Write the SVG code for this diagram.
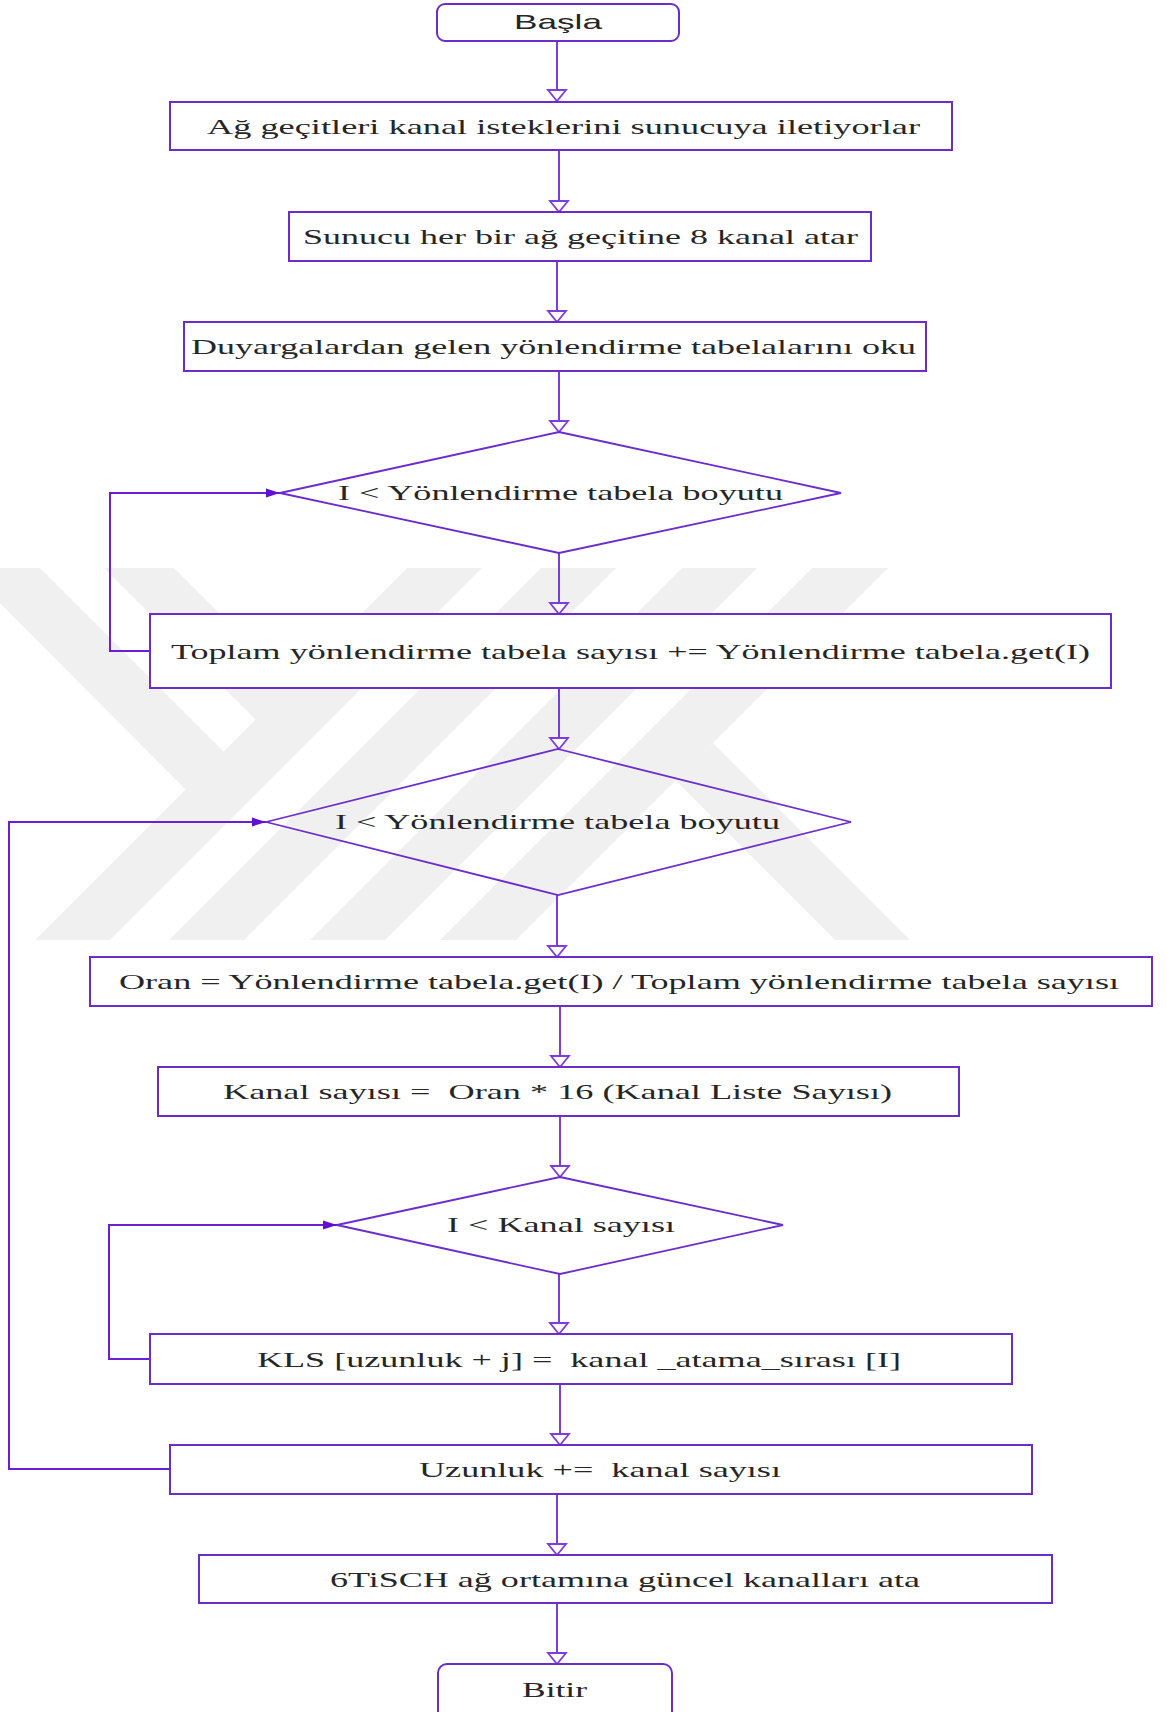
<svg xmlns="http://www.w3.org/2000/svg" width="1167" height="1712" viewBox="0 0 1167 1712">
  <style>
    .box { fill: #ffffff; stroke: #6b2ccb; stroke-width: 2; }
    .dia { fill: none; stroke: #6b2ccb; stroke-width: 1.8; }
    .lbl { font-family: "Liberation Serif", "Times New Roman", serif; font-size: 22px; fill: #262626; white-space: pre; }
    .term { font-family: "Liberation Sans", Arial, sans-serif; font-size: 21px; fill: #262626; }
    .flow { fill: none; stroke: #7d3ce0; stroke-width: 2; marker-end: url(#open); }
    .loop { fill: none; stroke: #6a1fd6; stroke-width: 2; marker-end: url(#solid); }
    .wm { fill: #f0f0f0; }
  </style>
  <defs>
    <marker id="open" markerUnits="userSpaceOnUse" viewBox="-2 -11 15 22" refX="11" refY="0" markerWidth="15" markerHeight="22" orient="auto">
      <path d="M0,-9 L11,0 L0,9 Z" fill="#ffffff" stroke="#7d3ce0" stroke-width="1.8"/>
    </marker>
    <marker id="solid" markerUnits="userSpaceOnUse" viewBox="-1 -6 16 12" refX="14" refY="0" markerWidth="16" markerHeight="12" orient="auto">
      <path d="M0,-4.5 L14,0 L0,4.5 Z" fill="#6010d0"/>
    </marker>
  </defs>

  <rect width="1167" height="1712" fill="#ffffff"/>

  <!-- faint background emblem -->
  <g id="emblem">
    <polygon class="wm" points="-35,568 40,568 226,754 188,792"/>
    <polygon class="wm" points="104,568 174,568 293,687 258,722"/>
    <polygon class="wm" points="407,568 482,568 110,940 35,940"/>
    <polygon class="wm" points="541,568 616,568 244,940 169,940"/>
    <polygon class="wm" points="682,568 757,568 385,940 310,940"/>
    <polygon class="wm" points="812,568 888,568 516,940 440,940"/>
    <polygon class="wm" points="713,743 910,940 835,940 675,780"/>
  </g>

  <!-- connectors -->
  <g id="connectors">
    <line class="flow" x1="557" y1="41" x2="557" y2="101"/>
    <line class="flow" x1="559" y1="151" x2="559" y2="212"/>
    <line class="flow" x1="557" y1="261" x2="557" y2="322"/>
    <line class="flow" x1="559" y1="371" x2="559" y2="432"/>
    <line class="flow" x1="559" y1="553" x2="559" y2="614"/>
    <line class="flow" x1="559" y1="688" x2="559" y2="749"/>
    <line class="flow" x1="557" y1="895" x2="557" y2="957"/>
    <line class="flow" x1="560" y1="1006" x2="560" y2="1067"/>
    <line class="flow" x1="560" y1="1116" x2="560" y2="1177"/>
    <line class="flow" x1="559" y1="1274" x2="559" y2="1334"/>
    <line class="flow" x1="560" y1="1384" x2="560" y2="1445"/>
    <line class="flow" x1="557" y1="1494" x2="557" y2="1555"/>
    <line class="flow" x1="557" y1="1603" x2="557" y2="1664"/>
    <path class="loop" d="M150,651 H110 V493 H280"/>
    <path class="loop" d="M170,1469 H9 V822 H266"/>
    <path class="loop" d="M150,1359 H109 V1225 H337"/>
  </g>

  <!-- nodes -->
  <g id="start">
    <rect class="box" x="437" y="4" width="242" height="37" rx="8"/>
    <text class="term" x="514" y="29" textLength="88" lengthAdjust="spacingAndGlyphs">Başla</text>
  </g>
  <g id="requests">
    <rect class="box" x="170" y="102" width="782" height="48"/>
    <text class="lbl" x="207" y="134" textLength="713" lengthAdjust="spacingAndGlyphs">Ağ geçitleri kanal isteklerini sunucuya iletiyorlar</text>
  </g>
  <g id="assign8">
    <rect class="box" x="289" y="212" width="582" height="49"/>
    <text class="lbl" x="303" y="244" textLength="555" lengthAdjust="spacingAndGlyphs">Sunucu her bir ağ geçitine 8 kanal atar</text>
  </g>
  <g id="readTables">
    <rect class="box" x="184" y="322" width="742" height="49"/>
    <text class="lbl" x="191" y="354" textLength="725" lengthAdjust="spacingAndGlyphs">Duyargalardan gelen yönlendirme tabelalarını oku</text>
  </g>
  <g id="loopTables1">
    <polygon class="dia" points="559,432 841,493 559,553 280,493"/>
    <text class="lbl" x="338" y="500" textLength="445" lengthAdjust="spacingAndGlyphs">I &lt; Yönlendirme tabela boyutu</text>
  </g>
  <g id="sumTables">
    <rect class="box" x="150" y="614" width="961" height="74"/>
    <text class="lbl" x="171" y="659" textLength="919" lengthAdjust="spacingAndGlyphs">Toplam yönlendirme tabela sayısı += Yönlendirme tabela.get(I)</text>
  </g>
  <g id="loopTables2">
    <polygon class="dia" points="558,749 851,822 558,895 266,822"/>
    <text class="lbl" x="335" y="829" textLength="445" lengthAdjust="spacingAndGlyphs">I &lt; Yönlendirme tabela boyutu</text>
  </g>
  <g id="ratio">
    <rect class="box" x="90" y="957" width="1062" height="49"/>
    <text class="lbl" x="119" y="989" textLength="1000" lengthAdjust="spacingAndGlyphs">Oran = Yönlendirme tabela.get(I) / Toplam yönlendirme tabela sayısı</text>
  </g>
  <g id="channelCount">
    <rect class="box" x="158" y="1067" width="801" height="49"/>
    <text class="lbl" x="223" y="1099" textLength="669" lengthAdjust="spacingAndGlyphs">Kanal sayısı =  Oran * 16 (Kanal Liste Sayısı)</text>
  </g>
  <g id="loopChannels">
    <polygon class="dia" points="560,1177 783,1225 560,1274 337,1225"/>
    <text class="lbl" x="447" y="1232" textLength="228" lengthAdjust="spacingAndGlyphs">I &lt; Kanal sayısı</text>
  </g>
  <g id="fillList">
    <rect class="box" x="150" y="1334" width="862" height="50"/>
    <text class="lbl" x="257" y="1367" textLength="644" lengthAdjust="spacingAndGlyphs">KLS [uzunluk + j] =  kanal _atama_sırası [I]</text>
  </g>
  <g id="advance">
    <rect class="box" x="170" y="1445" width="862" height="49"/>
    <text class="lbl" x="419" y="1477" textLength="362" lengthAdjust="spacingAndGlyphs">Uzunluk +=  kanal sayısı</text>
  </g>
  <g id="apply">
    <rect class="box" x="199" y="1555" width="853" height="48"/>
    <text class="lbl" x="330" y="1587" textLength="590" lengthAdjust="spacingAndGlyphs">6TiSCH ağ ortamına güncel kanalları ata</text>
  </g>
  <g id="end">
    <rect class="box" x="438" y="1664" width="234" height="60" rx="9"/>
    <text class="lbl" x="522" y="1697" font-size="24" textLength="65" lengthAdjust="spacingAndGlyphs">Bitir</text>
  </g>
</svg>
